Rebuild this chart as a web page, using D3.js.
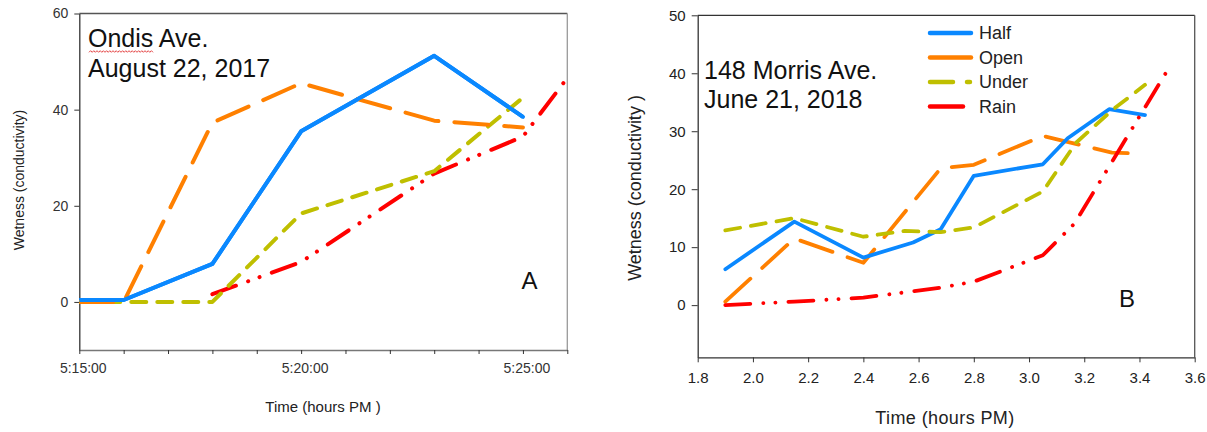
<!DOCTYPE html>
<html>
<head>
<meta charset="utf-8">
<script src="https://cdn.jsdelivr.net/npm/d3@7"></script>
<style>
  body { margin: 0; background: #fff; }
  svg { display: block; font-family: Arial, "Liberation Sans", sans-serif; }
</style>
</head>
<body>
<svg id="chart" width="1207" height="432"></svg>
<script>
// ---- Panel A: Ondis Ave., August 22, 2017 (clock time, PM) ----
const timeTicksA = ["5:15:00", "5:16:00", "5:17:00", "5:18:00", "5:19:00", "5:20:00",
                    "5:21:00", "5:22:00", "5:23:00", "5:24:00", "5:25:00", "5:26:00"];
const yTicksA = [0, 20, 40, 60];

const halfTimesA  = ["5:15:00", "5:16:00", "5:18:00", "5:20:00", "5:23:00", "5:25:00"];
const halfA       = [0.4, 0.4, 7.9, 35.5, 51.2, 38.5];
const openTimesA  = ["5:15:00", "5:16:00", "5:18:00", "5:20:00", "5:23:00", "5:25:00"];
const openA       = [0, 0, 37.3, 45.5, 37.7, 36.3];
const underTimesA = ["5:15:00", "5:16:00", "5:18:00", "5:20:00", "5:23:00", "5:25:00"];
const underA      = [0, 0, 0, 18.4, 27.2, 42.5];
const rainTimesA  = ["5:18:00", "5:20:00", "5:23:00", "5:25:00", "5:26:00"];
const rainA       = [1.6, 8.3, 26.7, 34.4, 46.6];

// ---- Panel B: 148 Morris Ave., June 21, 2018 (hours PM) ----
const xTicksB = [1.8, 2.0, 2.2, 2.4, 2.6, 2.8, 3.0, 3.2, 3.4, 3.6];
const yTicksB = [0, 10, 20, 30, 40, 50];

const halfHoursB  = [1.9, 2.15, 2.4, 2.58, 2.68, 2.8, 3.05, 3.14, 3.29, 3.42];
const halfB       = [6.2, 14.4, 8.2, 10.8, 13.1, 22.3, 24.3, 28.8, 33.8, 32.8];
const openHoursB  = [1.9, 2.15, 2.4, 2.68, 2.8, 3.05, 3.3, 3.37];
const openB       = [0.6, 11.5, 7.3, 23.6, 24.2, 29.2, 26.3, 26.2];
const underHoursB = [1.9, 2.15, 2.4, 2.55, 2.68, 2.8, 3.05, 3.17, 3.3, 3.42];
const underB      = [12.9, 15.0, 11.8, 12.8, 12.6, 13.4, 19.6, 28.0, 33.6, 38.0];
const rainHoursB  = [1.9, 2.15, 2.4, 2.68, 2.8, 3.05, 3.165, 3.5];
const rainB       = [0, 0.6, 1.3, 3.0, 4.05, 8.6, 14.1, 40.4];

const seriesNames = ["Half", "Open", "Under", "Rain"];

// Line styles per series
const styles = {
  Half:  { color: "#0a88ff", dash: null },
  Open:  { color: "#ff8000", dash: "34,16" },
  Under: { color: "#bfbf00", dash: "15,11" },
  Rain:  { color: "#ff0000", dash: "25,13,0.1,12,0.1,13" }
};

const svg = d3.select("#chart");
const parseT = d3.timeParse("%H:%M:%S");

// ============ Panel A ============
const A = { left: 79.3, right: 567.3, top: 13.5, bottom: 350 };
const xA = d3.scaleTime()
  .domain([parseT("5:15:00"), parseT("5:26:00")])
  .range([A.left, A.right]);
const yA = d3.scaleLinear().domain([-10, 60]).range([A.bottom, A.top]);

svg.append("clipPath").attr("id", "clipA")
  .append("rect").attr("x", A.left).attr("y", A.top)
  .attr("width", A.right - A.left).attr("height", A.bottom - A.top);

const gA = svg.append("g");

// frame (top and right)
gA.append("line").attr("x1", A.left).attr("x2", A.right).attr("y1", A.top).attr("y2", A.top)
  .attr("stroke", "#555").attr("stroke-width", 1.3);
gA.append("line").attr("x1", A.right).attr("x2", A.right).attr("y1", A.top).attr("y2", A.bottom)
  .attr("stroke", "#999").attr("stroke-width", 1.3);

// y axis A
const yAxisA = gA.append("g").attr("transform", `translate(${A.left},0)`)
  .call(d3.axisLeft(yA).tickValues(yTicksA).tickSize(5).tickPadding(6).tickSizeOuter(0));
yAxisA.select(".domain").attr("stroke", "#333").attr("stroke-width", 1.3);
yAxisA.selectAll(".tick line").attr("stroke", "#333");
yAxisA.selectAll("text").attr("font-size", 14).attr("fill", "#333")
  .attr("font-family", "Arial, 'Liberation Sans', sans-serif");

// x axis A
const fmtA = d3.timeFormat("%-H:%M:%S");
const xAxisA = gA.append("g").attr("transform", `translate(0,${A.bottom})`)
  .call(d3.axisBottom(xA).tickValues(timeTicksA.map(parseT)).tickSize(4).tickPadding(9).tickSizeOuter(0)
    .tickFormat(d => d.getMinutes() % 5 === 0 ? fmtA(d) : ""));
xAxisA.select(".domain").attr("stroke", "#777").attr("stroke-width", 1.3);
xAxisA.selectAll(".tick line").attr("stroke", "#333");
xAxisA.selectAll("text").attr("font-size", 14).attr("fill", "#333").attr("dx", 3.5)
  .attr("font-family", "Arial, 'Liberation Sans', sans-serif");

// axis titles A
gA.append("text").attr("transform", "translate(23.5,180) rotate(-90)")
  .attr("text-anchor", "middle").attr("font-size", 14).attr("fill", "#222")
  .text("Wetness (conductivity)");
gA.append("text").attr("x", 323).attr("y", 412)
  .attr("text-anchor", "middle").attr("font-size", 15).attr("fill", "#222")
  .text("Time (hours PM )");

// series A
const seriesA = {
  Half:  halfTimesA.map((t, i) => [parseT(t), halfA[i]]),
  Open:  openTimesA.map((t, i) => [parseT(t), openA[i]]),
  Under: underTimesA.map((t, i) => [parseT(t), underA[i]]),
  Rain:  rainTimesA.map((t, i) => [parseT(t), rainA[i]])
};
const lineA = d3.line().x(d => xA(d[0])).y(d => yA(d[1]));
const plotA = gA.append("g").attr("clip-path", "url(#clipA)");
["Half", "Rain", "Under", "Open"].forEach(name => {
  plotA.append("path").datum(seriesA[name])
    .attr("d", lineA).attr("fill", "none")
    .attr("stroke", styles[name].color).attr("stroke-width", 4)
    .attr("stroke-linecap", "round").attr("stroke-linejoin", "round")
    .attr("stroke-dasharray", styles[name].dash);
});
// blue drawn last on top where it overlaps
plotA.append("path").datum(seriesA.Half)
  .attr("d", lineA).attr("fill", "none")
  .attr("stroke", styles.Half.color).attr("stroke-width", 4)
  .attr("stroke-linejoin", "round");

// site / date annotation A
const titleA1 = gA.append("text").attr("x", 88).attr("y", 47)
  .attr("font-size", 25).attr("fill", "#111").text("Ondis Ave.");
gA.append("text").attr("x", 88).attr("y", 77)
  .attr("font-size", 25).attr("fill", "#111").text("August 22, 2017");

// wavy spell-check underline beneath "Ondis"
(function () {
  const tmp = gA.append("text").attr("font-size", 25).text("Ondis");
  const w = tmp.node().getComputedTextLength();
  tmp.remove();
  const x0 = 89, yw = 51.5, step = 1.6;
  const pts = d3.range(0, Math.floor(w / step) + 1).map(i => [x0 + i * step, yw + (i % 2 ? -0.8 : 0.8)]);
  gA.append("path").attr("d", d3.line()(pts)).attr("fill", "none")
    .attr("stroke", "#e03030").attr("stroke-width", 0.9);
})();

gA.append("text").attr("x", 521.5).attr("y", 288.5)
  .attr("font-size", 24).attr("fill", "#111").text("A");

// ============ Panel B ============
const B = { left: 697.7, right: 1194.7, top: 15.3, bottom: 357.3 };
const xB = d3.scaleLinear().domain([1.8, 3.6]).range([B.left, B.right]);
const yB = d3.scaleLinear().domain([-9, 50]).range([B.bottom, B.top]);

svg.append("clipPath").attr("id", "clipB")
  .append("rect").attr("x", B.left).attr("y", B.top)
  .attr("width", B.right - B.left).attr("height", B.bottom - B.top);

const gB = svg.append("g");

gB.append("line").attr("x1", B.left).attr("x2", B.right).attr("y1", B.top).attr("y2", B.top)
  .attr("stroke", "#333").attr("stroke-width", 1.3);
gB.append("line").attr("x1", B.right).attr("x2", B.right).attr("y1", B.top).attr("y2", B.bottom)
  .attr("stroke", "#555").attr("stroke-width", 1.3);

const yAxisB = gB.append("g").attr("transform", `translate(${B.left},0)`)
  .call(d3.axisLeft(yB).tickValues(yTicksB).tickSize(6).tickPadding(6).tickSizeOuter(0));
yAxisB.select(".domain").attr("stroke", "#333").attr("stroke-width", 1.3);
yAxisB.selectAll(".tick line").attr("stroke", "#333");
yAxisB.selectAll("text").attr("font-size", 15).attr("fill", "#222")
  .attr("font-family", "Arial, 'Liberation Sans', sans-serif");

const xAxisB = gB.append("g").attr("transform", `translate(0,${B.bottom})`)
  .call(d3.axisBottom(xB).tickValues(xTicksB).tickSize(5).tickPadding(10).tickSizeOuter(0)
    .tickFormat(d3.format(".1f")));
xAxisB.select(".domain").attr("stroke", "#333").attr("stroke-width", 1.3);
xAxisB.selectAll(".tick line").attr("stroke", "#333");
xAxisB.selectAll("text").attr("font-size", 15).attr("fill", "#222")
  .attr("font-family", "Arial, 'Liberation Sans', sans-serif");

gB.append("text").attr("transform", "translate(641,188) rotate(-90)")
  .attr("text-anchor", "middle").attr("font-size", 18).attr("fill", "#222")
  .text("Wetness (conductivity )");
gB.append("text").attr("x", 945).attr("y", 424)
  .attr("text-anchor", "middle").attr("font-size", 18).attr("fill", "#222")
  .attr("letter-spacing", 0.4)
  .text("Time (hours PM)");

const seriesB = {
  Half:  halfHoursB.map((h, i) => [h, halfB[i]]),
  Open:  openHoursB.map((h, i) => [h, openB[i]]),
  Under: underHoursB.map((h, i) => [h, underB[i]]),
  Rain:  rainHoursB.map((h, i) => [h, rainB[i]])
};
const lineB = d3.line().x(d => xB(d[0])).y(d => yB(d[1]));
const plotB = gB.append("g").attr("clip-path", "url(#clipB)");
["Open", "Half", "Under", "Rain"].forEach(name => {
  plotB.append("path").datum(seriesB[name])
    .attr("d", lineB).attr("fill", "none")
    .attr("stroke", styles[name].color).attr("stroke-width", 3.8)
    .attr("stroke-linecap", "round").attr("stroke-linejoin", "round")
    .attr("stroke-dasharray", styles[name].dash);
});

gB.append("text").attr("x", 704).attr("y", 79)
  .attr("font-size", 25).attr("fill", "#111").text("148 Morris Ave.");
gB.append("text").attr("x", 704).attr("y", 108.3)
  .attr("font-size", 25).attr("fill", "#111").text("June 21, 2018");

gB.append("text").attr("x", 1119).attr("y", 307)
  .attr("font-size", 24).attr("fill", "#111").text("B");

// legend
const legendDash = { Half: null, Open: null, Under: "23,14,3,40", Rain: null };
const legendLen = { Half: 43, Open: 43, Under: 43, Rain: 35 };
const leg = gB.append("g").attr("transform", "translate(930,0)");
seriesNames.forEach((name, i) => {
  const yy = 33 + i * 24.5;
  leg.append("line").attr("x1", 0).attr("x2", legendLen[name] - 2)
    .attr("y1", yy).attr("y2", yy)
    .attr("stroke", styles[name].color).attr("stroke-width", 4.5)
    .attr("stroke-linecap", "round")
    .attr("stroke-dasharray", legendDash[name]);
  leg.append("text").attr("x", 49).attr("y", yy + 6.3)
    .attr("font-size", 18).attr("fill", "#222").text(name);
});
</script>
</body>
</html>
